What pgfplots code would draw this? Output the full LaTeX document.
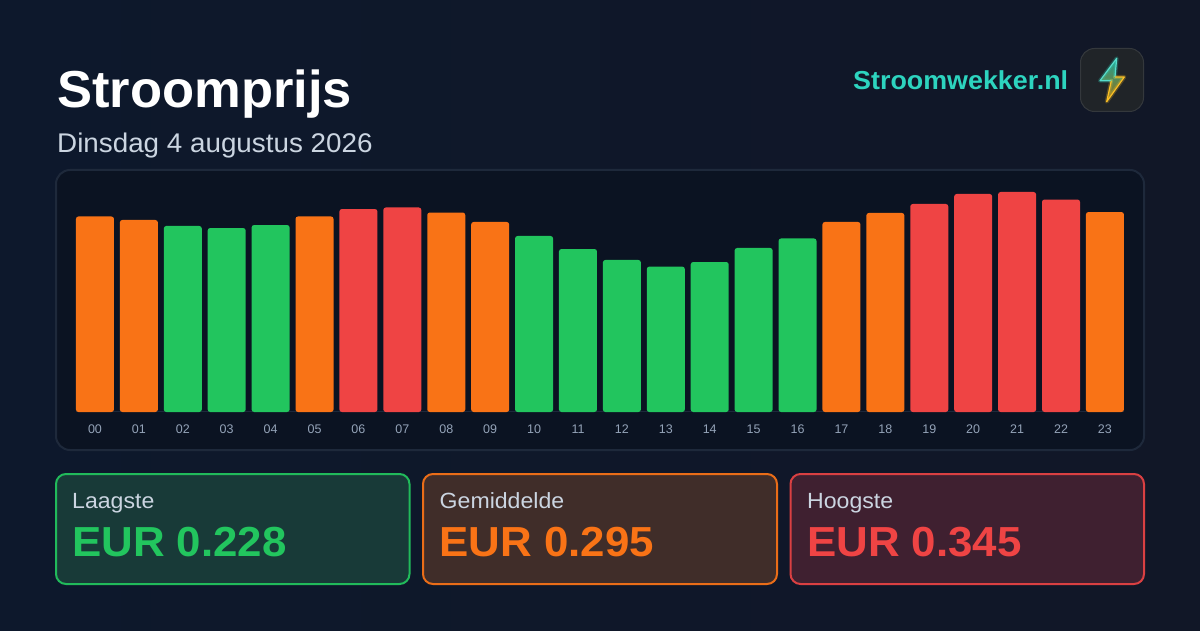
\documentclass[border=0pt]{standalone}
\usepackage{fontspec}
\setmainfont{Liberation Sans}
\usepackage{pgfplots}
\pgfplotsset{compat=1.18}
\usepackage{pgfplotstable}
\definecolor{bgl}{HTML}{0D182C}
\definecolor{bgr}{HTML}{111727}
\definecolor{panel}{HTML}{0B1322}
\definecolor{panelb}{HTML}{1E293B}
\definecolor{cg}{HTML}{22C55E}
\definecolor{co}{HTML}{F97316}
\definecolor{cr}{HTML}{EF4444}
\definecolor{teal}{HTML}{2DD4BF}
\definecolor{sub}{HTML}{CBD5E1}
\definecolor{tick}{HTML}{94A3B8}
\definecolor{amber}{HTML}{FBBF24}
\definecolor{gbox}{RGB}{24,58,56}
\definecolor{obox}{RGB}{64,45,41}
\definecolor{rbox}{RGB}{63,32,48}
\definecolor{logof}{RGB}{32,36,40}
\definecolor{logob}{RGB}{52,56,60}
\pgfplotstableread{
x y
0 0.3066
1 0.3011
5 0.3066
8 0.3128
9 0.2980
17 0.2980
18 0.3121
23 0.3136
}\orangeT
\pgfplotstableread{
x y
2 0.2917
3 0.2885
4 0.2932
10 0.2760
11 0.2556
12 0.2384
13 0.2280
14 0.2352
15 0.2572
16 0.2721
}\greenT
\pgfplotstableread{
x y
6 0.3183
7 0.3207
19 0.3262
20 0.3419
21 0.3450
22 0.3332
}\redT
\newcommand{\fs}[1]{\fontsize{#1}{#1}\selectfont}
\newcommand{\sx}[2]{\scalebox{#1}[1]{#2}}
\newcommand{\boltT}{(1111.3,549.3) -- (1100,549.3) -- (1116.7,571.7) -- (1115,553)}
\newcommand{\boltB}{(1111.3,549.3) -- (1106.7,528.3) -- (1124.3,553) -- (1115,553)}
\begin{document}
\begin{tikzpicture}[x=1pt,y=1pt]
\shade[left color=bgl,right color=bgr] (0,0) rectangle (1200,630);
% panel
\filldraw[fill=panel,draw=panelb,line width=2pt,rounded corners=14pt] (56,180) rectangle (1144,460);
% stat boxes
\filldraw[fill=gbox,draw=cg!92!gbox,line width=2pt,rounded corners=10pt] (56,46) rectangle (409.5,156);
\filldraw[fill=obox,draw=co!92!obox,line width=2pt,rounded corners=10pt] (423,46) rectangle (777,156);
\filldraw[fill=rbox,draw=cr!88!rbox,line width=2pt,rounded corners=10pt] (790.5,46) rectangle (1144,156);
% titles
\node[anchor=base west,inner sep=0,text=white] at (57,522) {\sx{1.01}{\fs{52}\bfseries Stroomprijs}};
\node[anchor=base west,inner sep=0,text=sub] at (57,477) {\sx{1.03}{\fs{27}Dinsdag 4 augustus 2026}};
\node[anchor=base west,inner sep=0,text=teal] at (853,540) {\sx{1.033}{\fs{26}\bfseries Stroomwekker.nl}};
% stat text
\node[anchor=base west,inner sep=0,text=sub] at (72,122) {\sx{1.05}{\fs{22}Laagste}};
\node[anchor=base west,inner sep=0,text=sub] at (439.5,122) {\sx{1.05}{\fs{22}Gemiddelde}};
\node[anchor=base west,inner sep=0,text=sub] at (807,122) {\sx{1.05}{\fs{22}Hoogste}};
\node[anchor=base west,inner sep=0,text=cg] at (72,74) {\sx{1.044}{\fs{42}\bfseries EUR 0.228}};
\node[anchor=base west,inner sep=0,text=co] at (439.5,74) {\sx{1.044}{\fs{42}\bfseries EUR 0.295}};
\node[anchor=base west,inner sep=0,text=cr] at (807,74) {\sx{1.044}{\fs{42}\bfseries EUR 0.345}};
% logo
\filldraw[fill=logof,draw=logob,line width=1pt,rounded corners=14pt] (1080.5,518.5) rectangle (1143.5,581.5);
\begin{scope}
\path[clip] (1116.7,571.7) -- (1100,549.3) -- (1111.3,549.3) -- (1106.7,528.3) -- (1124.3,553) -- (1115,553) -- cycle;
\shade[top color=teal!75!black,bottom color=amber!60!black] (1095,530) rectangle (1128,570);
\end{scope}
\draw[teal,opacity=.25,line width=4pt,line join=round,line cap=round] \boltT;
\draw[amber,opacity=.25,line width=4pt,line join=round,line cap=round] \boltB;
\draw[teal!80!white,line width=1.2pt,line join=round] \boltT;
\draw[amber,line width=1.2pt,line join=round] \boltB;
% baseline
\draw[panelb,line width=1pt] (76,218) -- (1124,218);
\begin{axis}[
 at={(73pt,218pt)},anchor=south west,
 scale only axis,width=1053.9pt,height=220pt,
 xmin=-0.5,xmax=23.5,ymin=0,ymax=0.345,
 ybar,/pgf/bar shift=0pt,bar width=38pt,
 clip=false,
 axis line style={draw=none},
 ytick=\empty,
 xtick={0,...,23},
 xticklabels={00,01,02,03,04,05,06,07,08,09,10,11,12,13,14,15,16,17,18,19,20,21,22,23},
 major tick length=0pt,
 xticklabel style={text=tick,font=\fs{12.5},inner sep=0pt,anchor=base,yshift=-21pt},
]
\addplot[draw=none,fill=co,rounded corners=2.5pt] table[x=x,y=y] {\orangeT};
\addplot[draw=none,fill=cg,rounded corners=2.5pt] table[x=x,y=y] {\greenT};
\addplot[draw=none,fill=cr,rounded corners=2.5pt] table[x=x,y=y] {\redT};
\end{axis}
\pgfresetboundingbox
\path[use as bounding box] (0,0) rectangle (1200,630);
\end{tikzpicture}
\end{document}
